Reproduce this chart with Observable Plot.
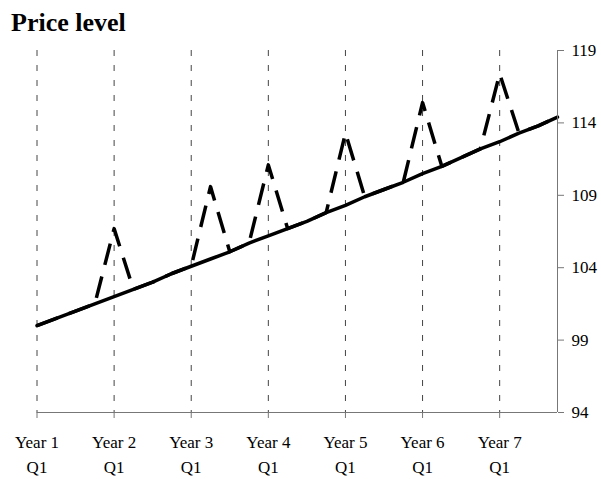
<!DOCTYPE html>
<html>
<head>
<meta charset="utf-8">
<script src="https://cdn.jsdelivr.net/npm/d3@7"></script>
<script src="https://cdn.jsdelivr.net/npm/@observablehq/plot@0.6"></script>
<style>
  html, body { margin: 0; padding: 0; background: white; }
  #wrap { width: 601px; height: 479px; position: relative; background: white; }
  #title { height: 40px; box-sizing: border-box; padding-top: 10px; padding-left: 11px;
           font: bold 26px/26px "Liberation Serif", "Times New Roman", serif; color: black; }
</style>
</head>
<body>
<div id="wrap">
  <div id="title">Price level</div>
  <div id="chart"></div>
</div>
<script>
// Quarters since Year 1 Q1
const quarters = [0,1,2,3,4,5,6,7,8,9,10,11,12,13,14,15,16,17,18,19,20,21,22,23,24,25,26,27];
// Solid line: steady price level path
const steadyPrice = [100.0,100.5,101.0,101.5,102.0,102.5,103.0,103.6,104.1,104.6,105.1,105.7,106.2,106.7,107.2,107.8,108.3,108.9,109.4,109.9,110.5,111.0,111.6,112.2,112.7,113.3,113.8,114.4];
// Dashed line: price level with periodic spikes
const spikePrice = [100.0,100.5,101.0,101.5,106.7,102.5,103.0,103.6,104.1,109.6,105.1,105.7,111.1,106.7,107.2,107.8,113.3,108.9,109.4,109.9,115.4,111.0,111.6,112.2,117.4,113.3,113.8,114.4];
// Axis ticks and labels
const yearTicks = [0,4,8,12,16,20,24];
const yearLabels = ["Year 1","Year 2","Year 3","Year 4","Year 5","Year 6","Year 7"];
const quarterLabels = ["Q1","Q1","Q1","Q1","Q1","Q1","Q1"];
const yTicks = [94,99,104,109,114,119];

const rows = quarters.map((q, i) => ({q, steady: steadyPrice[i], spike: spikePrice[i]}));
const axisColor = "#777";

const chart = Plot.plot({
  width: 601,
  height: 439,
  marginTop: 10,
  marginBottom: 67,
  marginLeft: 36.5,
  marginRight: 44,
  style: {fontFamily: "'Liberation Serif', 'Times New Roman', serif", fontSize: "17px", background: "white", color: "black"},
  x: {domain: [0, 27], label: null},
  y: {domain: [94, 119], label: null},
  marks: [
    Plot.ruleX(yearTicks, {x: d => d, stroke: "#444", strokeWidth: 1, strokeDasharray: "6,9"}),
    Plot.line(rows, {x: "q", y: "spike", stroke: "black", strokeWidth: 3.5, strokeDasharray: "22,12", strokeLinecap: "butt"}),
    Plot.line(rows, {x: "q", y: "steady", stroke: "black", strokeWidth: 3.5}),
    Plot.ruleY([94], {stroke: axisColor}),
    Plot.ruleX([27], {stroke: axisColor}),
    Plot.axisX(yearTicks, {anchor: "bottom", tickSize: 6, tickPadding: 17, stroke: axisColor, label: null,
      tickFormat: d => yearLabels[yearTicks.indexOf(d)], fontSize: 17}),
    Plot.axisX(yearTicks, {anchor: "bottom", tickSize: 0, tickPadding: 48, label: null,
      tickFormat: d => quarterLabels[yearTicks.indexOf(d)], fontSize: 17}),
    Plot.axisY(yTicks, {anchor: "right", tickSize: 6, tickPadding: 8, stroke: axisColor, label: null,
      tickFormat: d => String(d), fontSize: 17})
  ]
});
document.getElementById("chart").appendChild(chart);
</script>
</body>
</html>
